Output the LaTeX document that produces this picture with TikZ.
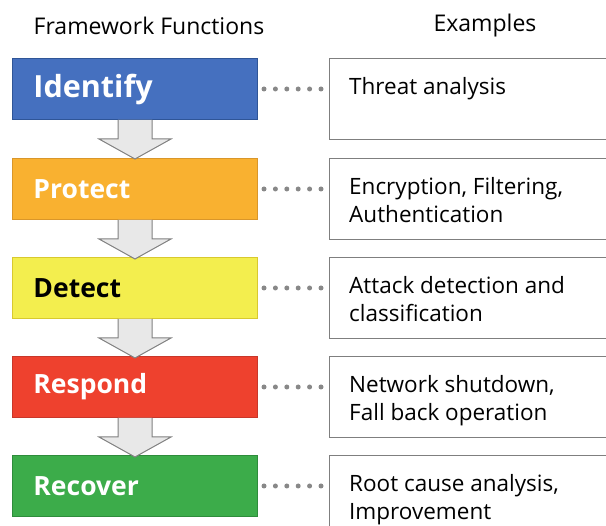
\documentclass[tikz,border=0pt]{standalone}
\usepackage{fontspec}
\setmainfont{Open Sans}
\usetikzlibrary{positioning,calc}

\definecolor{idblue}{HTML}{4570BF}
\definecolor{idline}{HTML}{2F5597}
\definecolor{prorange}{HTML}{F9B130}
\definecolor{prline}{HTML}{D9962A}
\definecolor{deyellow}{HTML}{F3EE4E}
\definecolor{deline}{HTML}{D8C92E}
\definecolor{rered}{HTML}{EE412E}
\definecolor{reline}{HTML}{C8372A}
\definecolor{rcgreen}{HTML}{3CAC4A}
\definecolor{rcline}{HTML}{2E8C3B}
\definecolor{exgray}{HTML}{7F7F7F}
\definecolor{dotgray}{HTML}{888888}
\definecolor{arrfill}{HTML}{E8E8E8}
\definecolor{arrline}{HTML}{808080}

\begin{document}
\begin{tikzpicture}[x=1pt,y=-1pt,
every node/.style={inner sep=0pt},
fun/.style={draw,line width=1pt,minimum width=245pt,minimum height=61pt,anchor=north west,
  text width=203pt,align=left,text=white,font=\bfseries\fontsize{26.5}{30}\selectfont},
exbox/.style={draw=exgray,line width=1.2pt,minimum width=300pt,minimum height=81pt,anchor=north west},
extext/.style={anchor=north west,align=left,font=\fontsize{22.5}{28}\selectfont},
dots/.style={draw=dotgray,line width=5pt,line cap=round,dash pattern=on 0pt off 11.4pt},
flow/.style={draw=arrline,fill=arrfill,line width=1pt}]
\useasboundingbox (0,0) rectangle (606,526);

% headings
\node[font=\fontsize{23}{26}\selectfont] (hfun) at (149,26) {Framework Functions};
\node[font=\fontsize{23}{26}\selectfont] (hex) at (485,26) {Examples};

% framework functions
\node[fun,fill=idblue,draw=idline,font=\bfseries\fontsize{30.5}{34}\selectfont] (Fid) at (12,58) {Identify};
\node[fun,fill=prorange,draw=prline] (Fpr) at (12,158) {Protect};
\node[fun,fill=deyellow,draw=deline,text=black] (Fde) at (12,257) {Detect};
\node[fun,fill=rered,draw=reline] (Fre) at (12,356) {Respond};
\node[fun,fill=rcgreen,draw=rcline] (Frc) at (12,455) {Recover};

% flow arrows
\foreach \a in {Fid,Fpr,Fde,Fre}{
  \draw[flow,shift={(\a.south)}] (-17,0) -- (-17,19) -- (-36,19) -- (0,39) -- (36,19) -- (17,19) -- (17,0);
}

% examples
\node[exbox] (Eid) at (329,58) {};
\node[exbox] (Epr) at (329,158) {};
\node[exbox] (Ede) at (329,257) {};
\node[exbox] (Ere) at (329,356) {};
\node[exbox] (Erc) at (329,455) {};
\node[extext] (Tid) at ([xshift=20pt,yshift=-19pt]Eid.north west) {Threat analysis};
\node[extext] (Tpr) at ([xshift=20pt,yshift=-19pt]Epr.north west) {Encryption, Filtering,\\Authentication};
\node[extext] (Tde) at ([xshift=20pt,yshift=-19pt]Ede.north west) {Attack detection and\\classification};
\node[extext] (Tre) at ([xshift=20pt,yshift=-19pt]Ere.north west) {Network shutdown,\\Fall back operation};
\node[extext] (Trc) at ([xshift=20pt,yshift=-19pt]Erc.north west) {Root cause analysis,\\Improvement};

% dotted links
\foreach \a/\b in {Fid/Eid,Fpr/Epr,Fde/Ede,Fre/Ere,Frc/Erc}{
  \draw[dots] ([xshift=6pt]\a.east) -- ([xshift=-7.5pt]\a.east -| \b.west);
}
\end{tikzpicture}
\end{document}
